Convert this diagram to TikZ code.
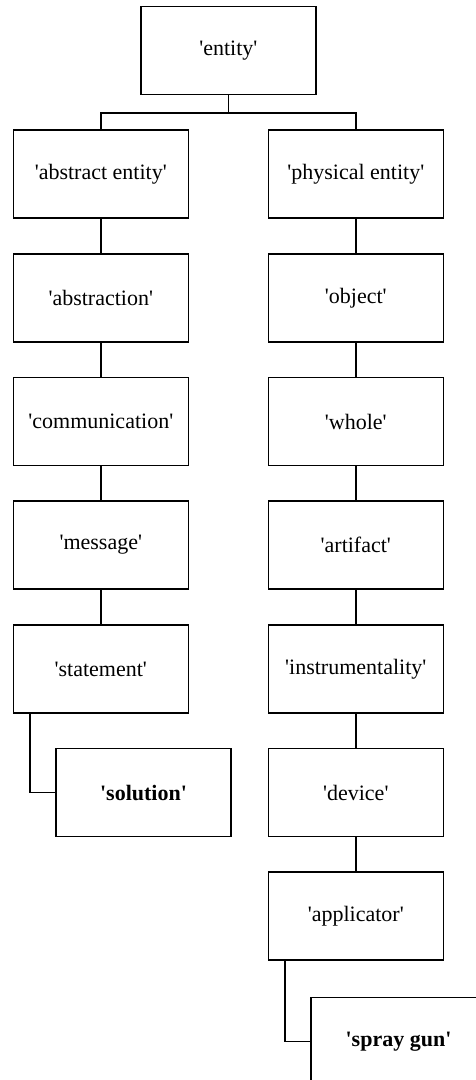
\documentclass[tikz,border=0pt]{standalone}
\usepackage{fontspec}
\setmainfont{Liberation Serif}
\newcommand{\q}{\textquotesingle}
\begin{document}
\begin{tikzpicture}[x=1pt,y=-1pt,
  box/.style={draw, line width=1.6pt, rectangle, minimum width=175pt, minimum height=88pt,
              inner sep=0pt, font=\fontsize{22}{26}\selectfont},
  link/.style={line width=1.5pt}]
\useasboundingbox (0,0) rectangle (476,1080);
\clip (0,0) rectangle (476,1080);

% root
\node[box] (entity) at (228.4,50.5) {\q entity\q};

% abstract branch
\node[box] (ae)  at (100.8,174)   {\q abstract entity\q};
\node[box] (abs) at (100.8,298)   {\q abstraction\q};
\node[box] (com) at (100.8,421.5) {\q communication\q};
\node[box] (msg) at (100.8,545)   {\q message\q};
\node[box] (st)  at (100.8,669)   {\q statement\q};
\node[box] (sol) at (143.5,792.5) {\textbf{\q solution\q}};

% physical branch
\node[box] (pe)  at (355.8,174)   {\q physical entity\q};
\node[box] (obj) at (355.8,298)   {\q object\q};
\node[box] (who) at (355.8,421.5) {\q whole\q};
\node[box] (art) at (355.8,545)   {\q artifact\q};
\node[box] (ins) at (355.8,669)   {\q instrumentality\q};
\node[box] (dev) at (355.8,792.5) {\q device\q};
\node[box] (app) at (355.8,916)   {\q applicator\q};
\node[box] (gun) at (398.5,1041.5) {\textbf{\q spray gun\q}};

% connectors
\coordinate (split) at (228.4,113);
\draw[link] (entity.south) -- (split);
\draw[link] (ae.north) |- (split) -| (pe.north);

\draw[link] (ae) -- (abs);
\draw[link] (abs) -- (com);
\draw[link] (com) -- (msg);
\draw[link] (msg) -- (st);
\draw[link] ([xshift=17.7pt]st.south west) |- (sol.west);

\draw[link] (pe) -- (obj);
\draw[link] (obj) -- (who);
\draw[link] (who) -- (art);
\draw[link] (art) -- (ins);
\draw[link] (ins) -- (dev);
\draw[link] (dev) -- (app);
\draw[link] ([xshift=17.7pt]app.south west) |- (gun.west);
\end{tikzpicture}
\end{document}
